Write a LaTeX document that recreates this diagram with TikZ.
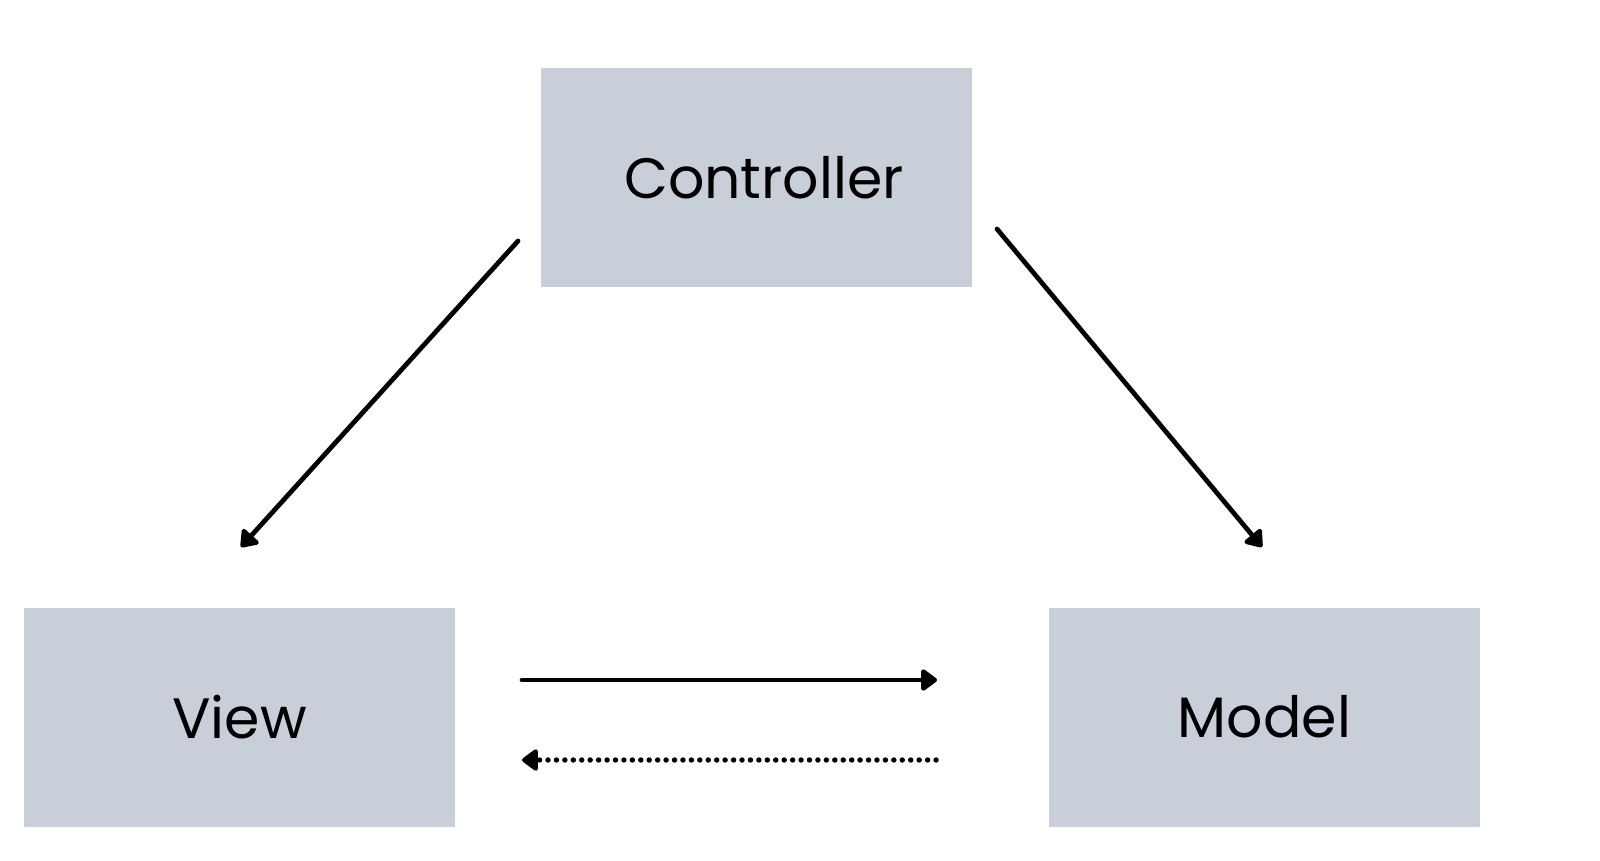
\documentclass[tikz,border=0pt]{standalone}
\usepackage{fontspec}
\setmainfont{Poppins}
\usepackage{tikz}
\usetikzlibrary{arrows.meta,calc}
\definecolor{mvcgray}{RGB}{200,207,216}
\newcommand{\bxW}{4.31}
\newcommand{\bxH}{2.19}
\tikzset{
  mvcbox/.style  ={draw=none,fill=mvcgray,minimum width=\bxW cm,minimum height=\bxH cm,inner sep=0pt,
                   font=\fontsize{16.2}{20}\selectfont,text=black},
  mvcline/.style ={line width=1.35pt,line cap=round,black},
  mvcarr/.style  ={mvcline,-{Triangle[length=5pt,width=7pt,round]}},
  dotarr/.style  ={mvcarr,line width=1.55pt,dash pattern=on 0pt off 2.4pt},
}
\begin{document}
\begin{tikzpicture}
      \useasboundingbox (0,0) rectangle (16,8.6);
      % boxes
      \node[mvcbox] (ctrl)  at (7.56,6.825)  {\hspace{0.16cm}Controller};
      \node[mvcbox] (view)  at (2.395,1.43)  {View};
      \node[mvcbox] (model) at (12.645,1.43) {Model};
      % free ends of the arrows
      \coordinate (cvA) at (5.18,6.19);  \coordinate (cvB) at (2.41,3.13);
      \coordinate (cmA) at (9.97,6.31);  \coordinate (cmB) at (12.62,3.13);
      \coordinate (vmA) at (5.22,1.80);  \coordinate (vmB) at (9.37,1.80);
      \coordinate (mvA) at (9.36,1.00);  \coordinate (mvB) at (5.22,1.00);
      \draw[mvcarr] (cvA) -- (cvB);
      \draw[mvcarr] (cmA) -- (cmB);
      \draw[mvcarr] (vmA) -- (vmB);
      \draw[dotarr] (mvA) -- (mvB);
    \end{tikzpicture}
\end{document}
